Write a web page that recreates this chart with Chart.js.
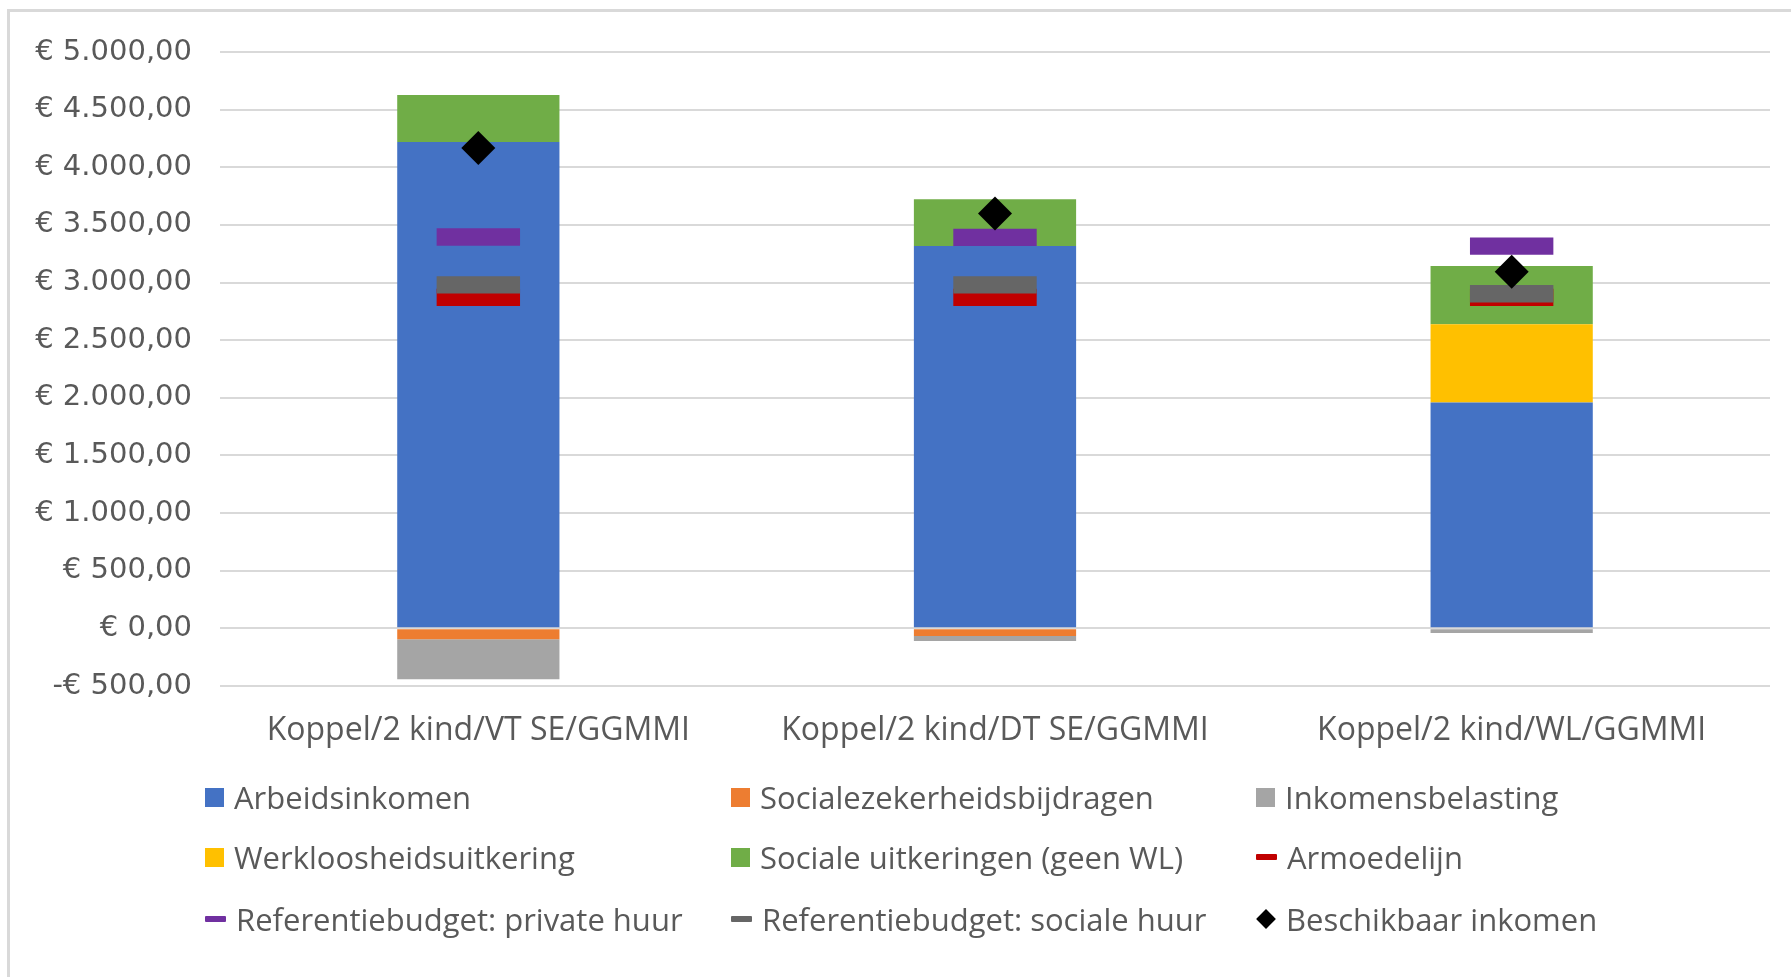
<!DOCTYPE html>
<html>
<head>
<meta charset="utf-8">
<script src="https://cdn.jsdelivr.net/npm/chart.js@4/dist/chart.umd.min.js"></script>
<style>
  html, body { margin: 0; padding: 0; background: #ffffff; }
  #wrap { position: relative; width: 1791px; height: 977px; overflow: hidden; background: #fff; }
  #frame { position: absolute; left: 7px; top: 9px; width: 2000px; height: 2000px;
           border-left: 3px solid #d9d9d9; border-top: 3px solid #d9d9d9; }
  #c { position: absolute; left: 0; top: 0; }
  .lg { position: absolute; display: flex; align-items: center; height: 40px;
        font-family: "Open Sans", sans-serif; font-size: 31px; color: #595959; white-space: nowrap; }
  .mk { display: inline-block; margin-right: 10px; }
</style>
</head>
<body>
<div id="wrap">
  <div id="frame"></div>
  <canvas id="c" width="1791" height="977"></canvas>
  <div id="legend"></div>
</div>
<script>
const categories = ["Koppel/2 kind/VT SE/GGMMI", "Koppel/2 kind/DT SE/GGMMI", "Koppel/2 kind/WL/GGMMI"];

const arbeidsinkomen = [4219, 3316, 1959];
const socialezekerheidsbijdragen = [-95, -67, 0];
const inkomensbelasting = [-346, -43, -40];
const werkloosheidsuitkering = [0, 0, 679];
const socialeUitkeringen = [409, 407, 505];
const armoedelijn = [2872, 2872, 2872];
const refPrivateHuur = [3395, 3392, 3316];
const refSocialeHuur = [2980, 2980, 2903];
const beschikbaarInkomen = [4167, 3599, 3094];

const yTickValues = [-500, 0, 500, 1000, 1500, 2000, 2500, 3000, 3500, 4000, 4500, 5000];

const legendNames = ["Arbeidsinkomen", "Socialezekerheidsbijdragen", "Inkomensbelasting",
  "Werkloosheidsuitkering", "Sociale uitkeringen (geen WL)", "Armoedelijn",
  "Referentiebudget: private huur", "Referentiebudget: sociale huur", "Beschikbaar inkomen"];

const C = { blue: "#4472C4", orange: "#ED7D31", grey: "#A5A5A5", gold: "#FFC000", green: "#70AD47",
            red: "#C00000", purple: "#7030A0", dgrey: "#666666", black: "#000000" };

function fmtEuro(v) {
  const neg = v < 0;
  const a = Math.abs(v);
  const int = Math.floor(a).toString().replace(/\B(?=(\d{3})+(?!\d))/g, ".");
  return (neg ? "-€ " : "€ ") + int + ",00";
}

function barDs(label, data, color) {
  return { type: "bar", label, data, backgroundColor: color, borderWidth: 0, order: 10,
           barPercentage: 0.314, categoryPercentage: 1, stack: "bars" };
}
function markDs(label, data, color, order, stack) {
  return { type: "line", label, data, showLine: false, order, stack,
           pointStyle: "line", pointRadius: 41.7, pointHoverRadius: 41.7,
           pointBorderWidth: 17.3, pointHoverBorderWidth: 17.3,
           pointBorderColor: color, pointBackgroundColor: color, borderColor: color, backgroundColor: color };
}

const datasets = [
  barDs(legendNames[0], arbeidsinkomen, C.blue),
  barDs(legendNames[1], socialezekerheidsbijdragen, C.orange),
  barDs(legendNames[2], inkomensbelasting, C.grey),
  barDs(legendNames[3], werkloosheidsuitkering, C.gold),
  barDs(legendNames[4], socialeUitkeringen, C.green),
  markDs(legendNames[5], armoedelijn, C.red, 4, "m1"),
  markDs(legendNames[6], refPrivateHuur, C.purple, 2, "m2"),
  markDs(legendNames[7], refSocialeHuur, C.dgrey, 3, "m3"),
  { type: "line", label: legendNames[8], data: beschikbaarInkomen, showLine: false, order: 1, stack: "m4",
    pointStyle: "rectRot", pointRadius: 17, pointHoverRadius: 17, pointBorderWidth: 0,
    pointBackgroundColor: C.black, pointBorderColor: C.black, borderColor: C.black, backgroundColor: C.black }
];

new Chart(document.getElementById("c"), {
  data: { labels: categories, datasets },
  options: {
    responsive: false,
    animation: false,
    events: [],
    layout: { autoPadding: false, padding: { top: 52, left: 0, right: 21, bottom: 0 } },
    plugins: { legend: { display: false }, tooltip: { enabled: false } },
    scales: {
      x: {
        stacked: true,
        grid: { display: false, drawTicks: false },
        border: { display: false },
        ticks: { color: "#595959", padding: 25.5, maxRotation: 0, autoSkip: false,
                 font: { family: "Open Sans", size: 32 } },
        afterFit(axis) { axis.height = 291; axis.paddingLeft = 0; axis.paddingRight = 0; }
      },
      y: {
        stacked: true,
        min: -500, max: 5000,
        afterBuildTicks(axis) { axis.ticks = yTickValues.map(v => ({ value: v })); },
        grid: { color: "#d9d9d9", lineWidth: 2, drawTicks: false },
        border: { display: false },
        ticks: { color: "#595959", padding: 28, font: { family: "DejaVu Sans", size: 29 },
                 callback: (v) => fmtEuro(v) },
        afterFit(axis) { axis.width = 220; axis.paddingTop = 0; axis.paddingBottom = 0; }
      }
    }
  }
});

// HTML legend, 3 columns
const legendKinds = ["sq", "sq", "sq", "sq", "sq", "dash", "dash", "dash", "dia"];
const legendColors = [C.blue, C.orange, C.grey, C.gold, C.green, C.red, C.purple, C.dgrey, C.black];
const colX = [205, 731, 1256];
const rowY = [797, 857, 919];
const lg = document.getElementById("legend");
legendNames.forEach((name, i) => {
  const d = document.createElement("div");
  d.className = "lg";
  d.style.left = colX[i % 3] + "px";
  d.style.top = (rowY[Math.floor(i / 3)] - 20) + "px";
  const m = document.createElement("span");
  m.className = "mk";
  if (legendKinds[i] === "sq") {
    m.style.width = "19px"; m.style.height = "19px"; m.style.background = legendColors[i];
  } else if (legendKinds[i] === "dash") {
    m.style.width = "21px"; m.style.height = "6px"; m.style.background = legendColors[i]; m.style.borderRadius = "1px";
  } else {
    m.style.width = "14px"; m.style.height = "14px"; m.style.background = legendColors[i];
    m.style.transform = "rotate(45deg)"; m.style.margin = "0 13px 0 3px";
  }
  d.appendChild(m);
  d.appendChild(document.createTextNode(name));
  lg.appendChild(d);
});
</script>
</body>
</html>
